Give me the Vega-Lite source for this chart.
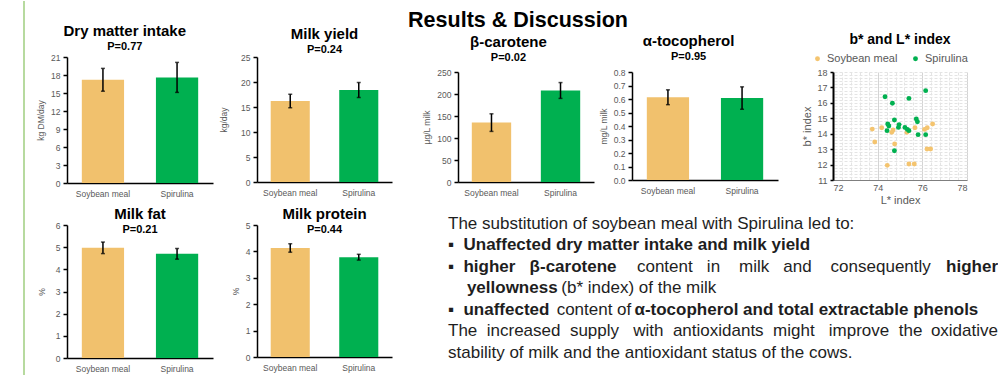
{
  "$schema": "https://vega.github.io/schema/vega-lite/v6.json",
  "background": "white",
  "padding": {"left": 23, "top": 0, "right": 0, "bottom": 0},
  "config": {
    "font": "Liberation Sans",
    "view": {"stroke": null},
    "title": {"font": "Liberation Sans", "fontSize": 15, "fontWeight": "bold", "color": "#000000", "subtitleFont": "Liberation Sans", "subtitleFontSize": 11, "subtitleFontWeight": "bold", "subtitleColor": "#000000", "subtitlePadding": 2},
    "axis": {"labelFont": "Liberation Sans", "titleFont": "Liberation Sans", "labelColor": "#595959", "titleColor": "#595959", "labelFontSize": 8.5, "titleFontSize": 8.5, "titleFontWeight": "normal", "grid": false, "domainColor": "#000000", "domainWidth": 1.5, "tickColor": "#000000", "tickWidth": 1.5, "tickSize": 4, "labelPadding": 3, "titlePadding": 5}
  },
  "datasets": {
    "bars": [
      {"panel": "dmi", "diet": "Soybean meal", "mean": 17.2, "err": 1.9},
      {"panel": "dmi", "diet": "Spirulina", "mean": 17.6, "err": 2.5},
      {"panel": "yield", "diet": "Soybean meal", "mean": 16.2, "err": 1.35},
      {"panel": "yield", "diet": "Spirulina", "mean": 18.4, "err": 1.5},
      {"panel": "fat", "diet": "Soybean meal", "mean": 4.97, "err": 0.26},
      {"panel": "fat", "diet": "Spirulina", "mean": 4.7, "err": 0.24},
      {"panel": "protein", "diet": "Soybean meal", "mean": 4.13, "err": 0.16},
      {"panel": "protein", "diet": "Spirulina", "mean": 3.78, "err": 0.11},
      {"panel": "carotene", "diet": "Soybean meal", "mean": 135, "err": 20},
      {"panel": "carotene", "diet": "Spirulina", "mean": 208, "err": 18},
      {"panel": "tocopherol", "diet": "Soybean meal", "mean": 0.613, "err": 0.055},
      {"panel": "tocopherol", "diet": "Spirulina", "mean": 0.607, "err": 0.083}
    ],
    "colour": [
      {"diet": "Soybean meal", "L": 73.76, "b": 14.30},
      {"diet": "Soybean meal", "L": 73.87, "b": 13.46},
      {"diet": "Soybean meal", "L": 74.18, "b": 14.39},
      {"diet": "Soybean meal", "L": 74.63, "b": 14.09},
      {"diet": "Soybean meal", "L": 74.69, "b": 14.24},
      {"diet": "Soybean meal", "L": 74.76, "b": 13.33},
      {"diet": "Soybean meal", "L": 74.43, "b": 11.95},
      {"diet": "Soybean meal", "L": 75.31, "b": 14.09},
      {"diet": "Soybean meal", "L": 75.40, "b": 12.04},
      {"diet": "Soybean meal", "L": 75.64, "b": 12.04},
      {"diet": "Soybean meal", "L": 75.67, "b": 14.39},
      {"diet": "Soybean meal", "L": 76.10, "b": 14.28},
      {"diet": "Soybean meal", "L": 76.22, "b": 14.39},
      {"diet": "Soybean meal", "L": 76.46, "b": 14.63},
      {"diet": "Soybean meal", "L": 76.21, "b": 13.01},
      {"diet": "Soybean meal", "L": 76.37, "b": 13.01},
      {"diet": "Spirulina", "L": 74.33, "b": 16.40},
      {"diet": "Spirulina", "L": 74.66, "b": 15.97},
      {"diet": "Spirulina", "L": 75.40, "b": 16.29},
      {"diet": "Spirulina", "L": 76.15, "b": 16.79},
      {"diet": "Spirulina", "L": 74.75, "b": 14.89},
      {"diet": "Spirulina", "L": 74.45, "b": 14.63},
      {"diet": "Spirulina", "L": 74.50, "b": 14.50},
      {"diet": "Spirulina", "L": 74.42, "b": 14.20},
      {"diet": "Spirulina", "L": 74.96, "b": 14.59},
      {"diet": "Spirulina", "L": 74.93, "b": 14.41},
      {"diet": "Spirulina", "L": 75.22, "b": 14.41},
      {"diet": "Spirulina", "L": 75.33, "b": 14.28},
      {"diet": "Spirulina", "L": 75.40, "b": 14.20},
      {"diet": "Spirulina", "L": 75.73, "b": 14.95},
      {"diet": "Spirulina", "L": 75.78, "b": 14.78},
      {"diet": "Spirulina", "L": 75.81, "b": 13.94},
      {"diet": "Spirulina", "L": 76.15, "b": 13.94},
      {"diet": "Spirulina", "L": 74.75, "b": 12.90}
    ],
    "notes": [
      {"line": 1, "anchor": "start", "strong": false, "text": "The substitution of soybean meal with Spirulina led to:"},
      {"line": 2, "anchor": "start", "strong": true, "text": "▪\u00a0\u00a0Unaffected dry matter intake and milk yield"},
      {"line": 3, "anchor": "start", "strong": true, "text": "▪\u00a0\u00a0higher\u00a0\u00a0\u00a0β-carotene"},
      {"line": 3, "anchor": "start", "strong": false, "text": "\u200b\u00a0\u00a0\u00a0\u00a0\u00a0\u00a0\u00a0\u00a0\u00a0\u00a0\u00a0\u00a0\u00a0\u00a0\u00a0\u00a0\u00a0\u00a0\u00a0\u00a0\u00a0\u00a0\u00a0\u00a0\u00a0\u00a0\u00a0\u00a0\u00a0\u00a0\u00a0\u00a0\u00a0\u00a0\u00a0\u00a0\u00a0\u00a0\u00a0\u00a0content\u00a0\u00a0\u00a0in\u00a0\u00a0\u00a0\u00a0milk\u00a0\u00a0\u00a0and\u00a0\u00a0\u00a0\u00a0consequently"},
      {"line": 3, "anchor": "end", "strong": true, "text": "higher"},
      {"line": 4, "anchor": "start", "strong": true, "text": "\u200b\u00a0\u00a0\u00a0\u00a0yellowness"},
      {"line": 4, "anchor": "start", "strong": false, "text": "\u200b\u00a0\u00a0\u00a0\u00a0\u00a0\u00a0\u00a0\u00a0\u00a0\u00a0\u00a0\u00a0\u00a0\u00a0\u00a0\u00a0\u00a0\u00a0\u00a0\u00a0\u00a0\u00a0\u00a0\u00a0(b* index) of the milk"},
      {"line": 5, "anchor": "start", "strong": true, "text": "▪\u00a0\u00a0unaffected\u00a0\u00a0\u00a0\u00a0\u00a0\u00a0\u00a0\u00a0\u00a0\u00a0\u00a0\u00a0\u00a0\u00a0\u00a0\u00a0\u00a0\u00a0α-tocopherol and total extractable phenols"},
      {"line": 5, "anchor": "start", "strong": false, "text": "\u200b\u00a0\u00a0\u00a0\u00a0\u00a0\u00a0\u00a0\u00a0\u00a0\u00a0\u00a0\u00a0\u00a0\u00a0\u00a0\u00a0\u00a0\u00a0\u00a0\u00a0\u00a0\u00a0\u00a0content of"},
      {"line": 6, "anchor": "start", "strong": false, "text": "The\u00a0\u00a0increased\u00a0\u00a0supply\u00a0\u00a0\u00a0with\u00a0\u00a0antioxidants\u00a0\u00a0might\u00a0\u00a0\u00a0improve\u00a0\u00a0the"},
      {"line": 6, "anchor": "end", "strong": false, "text": "oxidative"},
      {"line": 7, "anchor": "start", "strong": false, "text": "stability of milk and the antioxidant status of the cows."}
    ]
  },
  "spacing": 0,
  "resolve": {"scale": {"x": "independent", "y": "independent", "color": "independent"}},
  "hconcat": [
    {
      "width": 1,
      "height": 375,
      "data": {"values": [{"edge": 0}]},
      "mark": {"type": "rule", "color": "#b7da9f", "strokeWidth": 2},
      "encoding": {"x": {"field": "edge", "type": "quantitative", "scale": {"domain": [0, 1]}, "axis": null}}
    },
    {"width": 10.5, "height": 1, "data": {"values": []}, "mark": "point"},
    {
      "bounds": "flush",
      "spacing": 0,
      "resolve": {"scale": {"x": "independent", "y": "independent", "color": "independent"}},
      "vconcat": [
        {"width": 1, "height": 56, "data": {"values": []}, "mark": "point"},
        {
          "width": 146, "height": 126,
          "data": {"name": "bars"},
          "transform": [{"filter": "datum.panel === 'dmi'"}],
          "title": {"text": "Dry matter intake", "subtitle": "P=0.77", "frame": "bounds", "offset": 1},
          "encoding": {
            "x": {"field": "diet", "type": "nominal", "sort": null, "scale": {"paddingInner": 0.43, "paddingOuter": 0.2}, "axis": {"title": null, "labelAngle": 0, "ticks": false, "labelPadding": 6}},
            "y": {"field": "mean", "type": "quantitative", "scale": {"domain": [0, 21]}, "axis": {"title": "kg DM/day", "values": [0, 3, 6, 9, 12, 15, 18, 21]}}
          },
          "layer": [
            {"mark": {"type": "bar"}, "encoding": {"color": {"field": "diet", "type": "nominal", "scale": {"domain": ["Soybean meal", "Spirulina"], "range": ["#f1c16d", "#00b050"]}, "legend": null}}},
            {"mark": {"type": "errorbar", "ticks": true, "size": 4, "thickness": 1.5, "color": "#000000"}, "encoding": {"yError": {"field": "err"}}}
          ]
        },
        {"width": 1, "height": 42, "data": {"values": []}, "mark": "point"},
        {
          "width": 146, "height": 133,
          "data": {"name": "bars"},
          "transform": [{"filter": "datum.panel === 'fat'"}],
          "title": {"text": "Milk fat", "subtitle": "P=0.21", "frame": "group", "offset": -14},
          "encoding": {
            "x": {"field": "diet", "type": "nominal", "sort": null, "scale": {"paddingInner": 0.43, "paddingOuter": 0.2}, "axis": {"title": null, "labelAngle": 0, "ticks": false, "labelPadding": 6}},
            "y": {"field": "mean", "type": "quantitative", "scale": {"domain": [0, 6]}, "axis": {"title": "%", "titlePadding": 9, "values": [0, 1, 2, 3, 4, 5, 6]}}
          },
          "layer": [
            {"mark": {"type": "bar"}, "encoding": {"color": {"field": "diet", "type": "nominal", "scale": {"domain": ["Soybean meal", "Spirulina"], "range": ["#f1c16d", "#00b050"]}, "legend": null}}},
            {"mark": {"type": "errorbar", "ticks": true, "size": 4, "thickness": 1.5, "color": "#000000"}, "encoding": {"yError": {"field": "err"}}}
          ]
        }
      ]
    },
    {"width": 5.5, "height": 1, "data": {"values": []}, "mark": "point"},
    {
      "bounds": "flush",
      "spacing": 0,
      "resolve": {"scale": {"x": "independent", "y": "independent", "color": "independent"}},
      "vconcat": [
        {"width": 1, "height": 56, "data": {"values": []}, "mark": "point"},
        {
          "width": 135, "height": 125,
          "data": {"name": "bars"},
          "transform": [{"filter": "datum.panel === 'yield'"}],
          "title": {"text": "Milk yield", "subtitle": "P=0.24", "frame": "group", "offset": -2},
          "encoding": {
            "x": {"field": "diet", "type": "nominal", "sort": null, "scale": {"paddingInner": 0.43, "paddingOuter": 0.2}, "axis": {"title": null, "labelAngle": 0, "ticks": false, "labelPadding": 6}},
            "y": {"field": "mean", "type": "quantitative", "scale": {"domain": [0, 25]}, "axis": {"title": "kg/day", "titlePadding": 12, "values": [0, 5, 10, 15, 20, 25]}}
          },
          "layer": [
            {"mark": {"type": "bar"}, "encoding": {"color": {"field": "diet", "type": "nominal", "scale": {"domain": ["Soybean meal", "Spirulina"], "range": ["#f1c16d", "#00b050"]}, "legend": null}}},
            {"mark": {"type": "errorbar", "ticks": true, "size": 4, "thickness": 1.5, "color": "#000000"}, "encoding": {"yError": {"field": "err"}}}
          ]
        },
        {"width": 1, "height": 43, "data": {"values": []}, "mark": "point"},
        {
          "width": 135, "height": 132,
          "data": {"name": "bars"},
          "transform": [{"filter": "datum.panel === 'protein'"}],
          "title": {"text": "Milk protein", "subtitle": "P=0.44", "frame": "group", "offset": -14},
          "encoding": {
            "x": {"field": "diet", "type": "nominal", "sort": null, "scale": {"paddingInner": 0.43, "paddingOuter": 0.2}, "axis": {"title": null, "labelAngle": 0, "ticks": false, "labelPadding": 6}},
            "y": {"field": "mean", "type": "quantitative", "scale": {"domain": [0, 5]}, "axis": {"title": "%", "values": [0, 1, 2, 3, 4, 5]}}
          },
          "layer": [
            {"mark": {"type": "bar"}, "encoding": {"color": {"field": "diet", "type": "nominal", "scale": {"domain": ["Soybean meal", "Spirulina"], "range": ["#f1c16d", "#00b050"]}, "legend": null}}},
            {"mark": {"type": "errorbar", "ticks": true, "size": 4, "thickness": 1.5, "color": "#000000"}, "encoding": {"yError": {"field": "err"}}}
          ]
        }
      ]
    },
    {"width": 16, "height": 1, "data": {"values": []}, "mark": "point"},
    {
      "spacing": 2,
      "resolve": {"scale": {"x": "independent", "y": "independent", "color": "independent"}},
      "vconcat": [
        {
          "width": 140, "height": 29,
          "data": {"values": []},
          "mark": "point",
          "title": {"text": "Results & Discussion", "orient": "top", "anchor": "middle", "frame": "group", "fontSize": 21.5, "baseline": "alphabetic", "offset": -47}
        },
        {
          "bounds": "flush",
          "spacing": 0,
          "resolve": {"scale": {"x": "independent", "y": "independent", "color": "independent"}},
          "hconcat": [
            {"width": 10, "height": 1, "data": {"values": []}, "mark": "point"},
            {
              "width": 136, "height": 110,
              "data": {"name": "bars"},
              "transform": [{"filter": "datum.panel === 'carotene'"}],
              "title": {"text": "β-carotene", "subtitle": "P=0.02", "frame": "bounds", "offset": 5},
              "encoding": {
                "x": {"field": "diet", "type": "nominal", "sort": null, "scale": {"paddingInner": 0.43, "paddingOuter": 0.2}, "axis": {"title": null, "labelAngle": 0, "ticks": false, "labelPadding": 6}},
                "y": {"field": "mean", "type": "quantitative", "scale": {"domain": [0, 250]}, "axis": {"title": "µg/L milk", "values": [0, 50, 100, 150, 200, 250]}}
              },
              "layer": [
                {"mark": {"type": "bar"}, "encoding": {"color": {"field": "diet", "type": "nominal", "scale": {"domain": ["Soybean meal", "Spirulina"], "range": ["#f1c16d", "#00b050"]}, "legend": null}}},
                {"mark": {"type": "errorbar", "ticks": true, "size": 4, "thickness": 1.5, "color": "#000000"}, "encoding": {"yError": {"field": "err"}}}
              ]
            },
            {"width": 38, "height": 1, "data": {"values": []}, "mark": "point"},
            {
              "width": 146, "height": 108,
              "data": {"name": "bars"},
              "transform": [{"filter": "datum.panel === 'tocopherol'"}],
              "title": {"text": "α-tocopherol", "subtitle": "P=0.95", "frame": "bounds", "offset": 6},
              "encoding": {
                "x": {"field": "diet", "type": "nominal", "sort": null, "scale": {"paddingInner": 0.43, "paddingOuter": 0.2}, "axis": {"title": null, "labelAngle": 0, "ticks": false, "labelPadding": 6}},
                "y": {"field": "mean", "type": "quantitative", "scale": {"domain": [0, 0.8]}, "axis": {"title": "mg/L milk", "values": [0, 0.1, 0.2, 0.3, 0.4, 0.5, 0.6, 0.7, 0.8]}}
              },
              "layer": [
                {"mark": {"type": "bar"}, "encoding": {"color": {"field": "diet", "type": "nominal", "scale": {"domain": ["Soybean meal", "Spirulina"], "range": ["#f1c16d", "#00b050"]}, "legend": null}}},
                {"mark": {"type": "errorbar", "ticks": true, "size": 4, "thickness": 1.5, "color": "#000000"}, "encoding": {"yError": {"field": "err"}}}
              ]
            },
            {"width": 55, "height": 1, "data": {"values": []}, "mark": "point"},
            {
              "width": 134, "height": 108,
              "data": {"name": "colour"},
              "title": {"text": "b* and L* index", "fontSize": 14, "frame": "group", "offset": 6},
              "resolve": {"axis": {"x": "independent", "y": "independent"}},
              "layer": [
                {
                  "mark": {"type": "circle", "size": 24, "opacity": 1},
                  "encoding": {
                    "x": {"field": "L", "type": "quantitative", "scale": {"domain": [72, 78], "nice": false}, "axis": {"orient": "bottom", "title": "L* index", "titleFontSize": 11, "labelFontSize": 9, "values": [72, 74, 76, 78], "grid": true, "gridColor": "#d4d4d4", "ticks": false, "domainWidth": 1, "domainColor": "#7f7f7f", "titlePadding": 2}},
                    "y": {"field": "b", "type": "quantitative", "scale": {"domain": [11, 18], "nice": false, "zero": false}, "axis": {"orient": "left", "title": "b* index", "titleFontSize": 11, "labelFontSize": 9, "values": [11, 12, 13, 14, 15, 16, 17, 18], "grid": false, "domainWidth": 2, "tickSize": 3, "titlePadding": 4}},
                    "color": {"field": "diet", "type": "nominal", "scale": {"domain": ["Soybean meal", "Spirulina"], "range": ["#f4c46f", "#00b050"]}, "legend": {"orient": "none", "legendX": -21, "legendY": -19, "direction": "horizontal", "title": null, "labelFontSize": 11, "labelColor": "#595959", "symbolSize": 24, "symbolType": "circle", "columnPadding": 12, "padding": 0}}
                  }
                },
                {
                  "mark": {"type": "circle", "opacity": 0},
                  "encoding": {
                    "x": {"field": "L", "type": "quantitative", "axis": {"orient": "top", "title": null, "labels": false, "ticks": false, "domain": false, "grid": true, "gridColor": "#e4e4e4", "gridDash": [3, 2], "values": [72.4, 72.8, 73.2, 73.6, 74.4, 74.8, 75.2, 75.6, 76.4, 76.8, 77.2, 77.6]}},
                    "y": {"field": "b", "type": "quantitative", "axis": {"orient": "right", "title": null, "labels": false, "ticks": false, "domain": false, "grid": true, "gridColor": "#e4e4e4", "gridDash": [3, 2], "values": [11.2, 11.4, 11.6, 11.8, 12, 12.2, 12.4, 12.6, 12.8, 13, 13.2, 13.4, 13.6, 13.8, 14, 14.2, 14.4, 14.6, 14.8, 15, 15.2, 15.4, 15.6, 15.8, 16, 16.2, 16.4, 16.6, 16.8, 17, 17.2, 17.4, 17.6, 17.8, 18]}}
                  }
                }
              ]
            }
          ]
        },
        {
          "width": 550, "height": 172,
          "data": {"name": "notes"},
          "encoding": {
            "y": {"field": "line", "type": "quantitative", "scale": {"domain": [0, 8], "reverse": true}, "axis": null},
            "x": {"field": "anchor", "type": "nominal", "scale": {"type": "point", "domain": ["start", "end"], "padding": 0}, "axis": null},
            "text": {"field": "text"}
          },
          "layer": [
            {"transform": [{"filter": "datum.anchor === 'start' && !datum.strong"}], "mark": {"type": "text", "align": "left", "baseline": "alphabetic", "fontSize": 17, "color": "#1e1e1e"}},
            {"transform": [{"filter": "datum.anchor === 'start' && datum.strong"}], "mark": {"type": "text", "align": "left", "baseline": "alphabetic", "fontSize": 17, "fontWeight": "bold", "color": "#1e1e1e"}},
            {"transform": [{"filter": "datum.anchor === 'end' && !datum.strong"}], "mark": {"type": "text", "align": "right", "baseline": "alphabetic", "fontSize": 17, "color": "#1e1e1e"}},
            {"transform": [{"filter": "datum.anchor === 'end' && datum.strong"}], "mark": {"type": "text", "align": "right", "baseline": "alphabetic", "fontSize": 17, "fontWeight": "bold", "color": "#1e1e1e"}}
          ]
        }
      ]
    }
  ]
}
